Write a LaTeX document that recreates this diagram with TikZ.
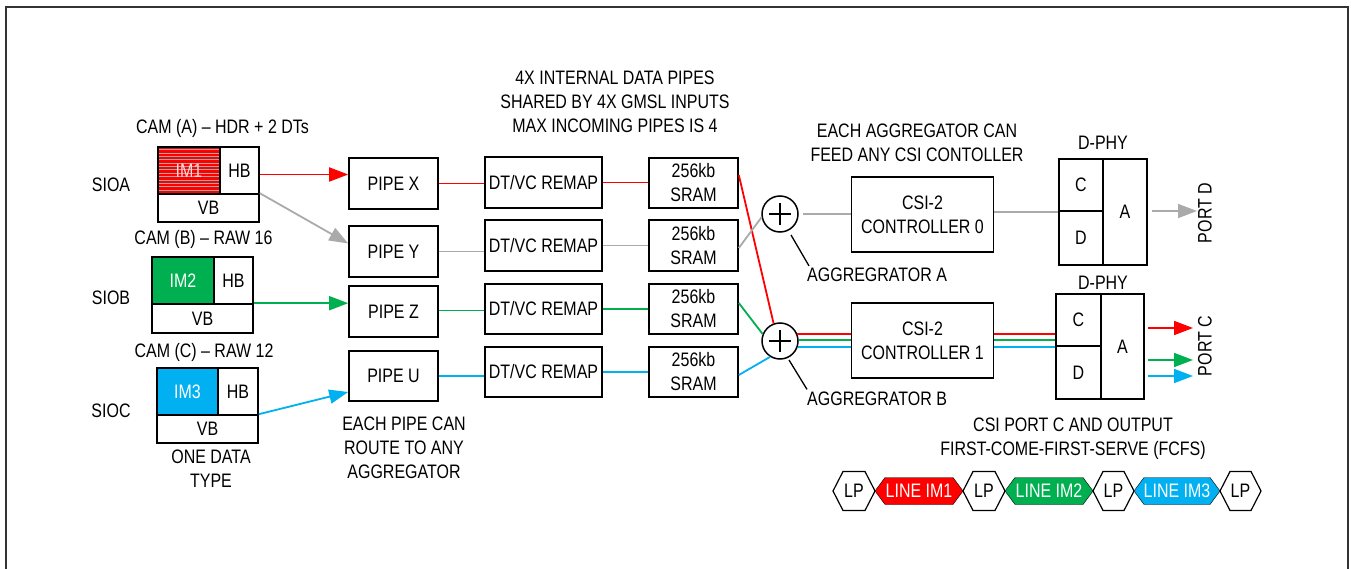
\documentclass[tikz,border=0pt]{standalone}
\usepackage{fontspec}
\setmainfont{Liberation Sans}[FakeStretch=0.82]
\usetikzlibrary{arrows.meta,calc}
\definecolor{cred}{RGB}{255,0,0}
\definecolor{cgreen}{RGB}{0,176,80}
\definecolor{cblue}{RGB}{0,176,240}
\definecolor{cgray}{RGB}{170,170,170}
\newcommand\hexshape[4]{\draw[#4] (#1,491) -- (#1+10,491-#3) -- (#2-10,491-#3) -- (#2,491) -- (#2-10,491+#3) -- (#1+10,491+#3) -- cycle;}
\begin{document}
\begin{tikzpicture}[x=1pt,y=-1pt,
  every node/.style={font=\fontsize{19.5}{24}\selectfont, inner sep=0pt, align=center},
  box/.style={draw, line width=1.6pt},
  conn/.style={line width=1.8pt},
  arr/.style={conn, -{Triangle[length=19pt,width=14pt]}},
  leader/.style={line width=1.3pt, black}
]
\useasboundingbox (0,0) rectangle (1351,569);
% frame
\draw[line width=1.8pt, black!80] (6,569) -- (6,7) -- (1348,7) -- (1348,569);

% titles
\node (tPipes) at (615,102) {4X INTERNAL DATA PIPES\\SHARED BY 4X GMSL INPUTS\\MAX INCOMING PIPES IS 4};
\node (tCamA) at (222.5,128) {CAM (A) -- HDR + 2 DTs};
\node (tCamB) at (203.5,239) {CAM (B) -- RAW 16};
\node (tCamC) at (204,352) {CAM (C) -- RAW 12};
\node (tAgg) at (917,142.5) {EACH AGGREGATOR CAN\\FEED ANY CSI CONTOLLER};
\node (tPhy1) at (1103,143) {D-PHY};
\node (tPhy2) at (1103,283) {D-PHY};
\node (tOne) at (211,469) {ONE DATA\\TYPE};
\node (tEach) at (404,448) {EACH PIPE CAN\\ROUTE TO ANY\\AGGREGATOR};
\node (tFcfs) at (1073,438.5) {CSI PORT C AND OUTPUT\\FIRST-COME-FIRST-SERVE (FCFS)};
\node (sioa) at (111,185) {SIOA};
\node (siob) at (111,298) {SIOB};
\node (sioc) at (111,411) {SIOC};

% camera A
\node[box, fill=cred, minimum width=62, minimum height=47,
  path picture={\foreach \k in {1,...,14}{\draw[cgray, line width=0.9pt] ($(path picture bounding box.north west)+(0,\k*3.35-0.5)$) -- ++(70,0);}}]
  (imA) at (189,170.5) {};
\node[text=white!85!red] (imAt) at (imA) {IM1};
\node[box, minimum width=39, minimum height=47] (hbA) at (239.5,170.5) {HB};
\node[box, minimum width=101, minimum height=28] (vbA) at (208.5,208) {VB};
% camera B
\node[box, fill=cgreen, text=white, minimum width=62, minimum height=47] (imB) at (183,280.5) {IM2};
\node[box, minimum width=39, minimum height=47] (hbB) at (233.5,280.5) {HB};
\node[box, minimum width=101, minimum height=29] (vbB) at (202.5,318.5) {VB};
% camera C
\node[box, fill=cblue, text=white, minimum width=61, minimum height=47] (imC) at (187.5,391.5) {IM3};
\node[box, minimum width=40, minimum height=47] (hbC) at (238,391.5) {HB};
\node[box, minimum width=101, minimum height=28] (vbC) at (207.5,429) {VB};

% pipes
\node[box, minimum width=89, minimum height=51] (pX) at (393.5,183.5) {PIPE X};
\node[box, minimum width=89, minimum height=51] (pY) at (393.5,251.5) {PIPE Y};
\node[box, minimum width=89, minimum height=51] (pZ) at (393.5,311.5) {PIPE Z};
\node[box, minimum width=89, minimum height=50] (pU) at (393.5,376) {PIPE U};
% remaps
\node[box, minimum width=117, minimum height=51] (rX) at (543.5,182.5) {DT/VC REMAP};
\node[box, minimum width=117, minimum height=51] (rY) at (543.5,245.5) {DT/VC REMAP};
\node[box, minimum width=117, minimum height=50] (rZ) at (543.5,309) {DT/VC REMAP};
\node[box, minimum width=117, minimum height=50] (rU) at (543.5,372) {DT/VC REMAP};
% srams
\node[box, minimum width=89, minimum height=50] (sX) at (693.5,183) {256kb\\SRAM};
\node[box, minimum width=89, minimum height=51] (sY) at (693.5,245.5) {256kb\\SRAM};
\node[box, minimum width=89, minimum height=50] (sZ) at (693.5,309) {256kb\\SRAM};
\node[box, minimum width=89, minimum height=50] (sU) at (693.5,372) {256kb\\SRAM};

% aggregators
\node[draw, circle, line width=1.5pt, minimum size=36] (aggA) at (780,214) {};
\node[draw, circle, line width=1.5pt, minimum size=36] (aggB) at (780,341) {};
\draw[line width=1.4pt] ($(aggA)+(-11,0)$) -- ($(aggA)+(11,0)$) ($(aggA)+(0,-11)$) -- ($(aggA)+(0,11)$);
\draw[line width=1.4pt] ($(aggB)+(-11,0)$) -- ($(aggB)+(11,0)$) ($(aggB)+(0,-11)$) -- ($(aggB)+(0,11)$);
\node[anchor=west] (lblA) at (807,275) {AGGREGRATOR A};
\node[anchor=west] (lblB) at (807,398.5) {AGGREGRATOR B};
\draw[leader] ($(aggA)+(11,21)$) -- ($(lblA.north west)+(2,-2)$);
\draw[leader] ($(aggB)+(9,19)$) -- ($(lblB.north west)+(0,-2)$);

% CSI controllers
\node[box, minimum width=142, minimum height=75] (csi0) at (922.5,214.5) {CSI-2\\CONTROLLER 0};
\node[box, minimum width=142, minimum height=75] (csi1) at (922.5,340.5) {CSI-2\\CONTROLLER 1};

% D-PHY top
\node[box, minimum width=44, minimum height=52] (dC1) at (1081,185) {C};
\node[box, minimum width=44, minimum height=54] (dD1) at (1081,238) {D};
\node[box, minimum width=44, minimum height=106] (dA1) at (1125,212) {A};
% D-PHY bottom
\node[box, minimum width=45, minimum height=52] (dC2) at (1078.5,320) {C};
\node[box, minimum width=45, minimum height=53] (dD2) at (1078.5,372.5) {D};
\node[box, minimum width=43, minimum height=105] (dA2) at (1122.5,346.5) {A};

\node[rotate=90] (portD) at (1205,213) {PORT D};
\node[rotate=90] (portC) at (1205,346) {PORT C};
\coordinate (outD) at (1197,211);
\coordinate (outCr) at (1193,328);
\coordinate (outCg) at (1193,360);
\coordinate (outCb) at (1193,376);

% camera -> pipe arrows
\draw[arr, cred] ($(hbA.east)+(0,4)$) -- ($(pX.west |- hbA.east)+(0,4)$);
\draw[arr, cgray] (vbA.north east) -- ($(pY.west)+(0,-8)$);
\draw[arr, cgreen] (vbB.north east) -- (pZ.west |- vbB.north east);
\draw[arr, cblue] (vbC.north east) -- ($(pU.west)+(0,16)$);

% pipe -> remap -> sram
\draw[conn, cred] (pX.east) -- (rX.west |- pX.east);
\draw[conn, cgray] (pY.east) -- (rY.west |- pY.east);
\draw[conn, cgreen] ($(pZ.east)+(0,-1)$) -- ($(rZ.west |- pZ.east)+(0,-1)$);
\draw[conn, cblue] (pU.east) -- (rU.west |- pU.east);
\draw[conn, cred] (rX.east) -- (sX.west |- rX.east);
\draw[conn, cgray] (rY.east) -- (sY.west |- rY.east);
\draw[conn, cgreen] (rZ.east) -- (sZ.west |- rZ.east);
\draw[conn, cblue] (rU.east) -- (sU.west |- rU.east);

% sram -> aggregators
\draw[conn, cred] ($(sX.east)+(0,-8)$) -- (aggB.110);
\draw[conn, cgray] ($(sY.east)+(0,2.5)$) -- (aggA.190);
\draw[conn, cgreen] ($(sZ.east)+(0,-6)$) -- (aggB.158);
\draw[conn, cblue] ($(sU.east)+(0,3)$) -- (aggB.238);

% aggregators -> csi
\draw[conn, cgray] ($(aggA.east)+(4,0)$) -- (csi0.west |- aggA.east);
\draw[conn, cred] (aggB.22) -- (csi1.west |- aggB.22);
\draw[conn, cgreen] (aggB.2) -- (csi1.west |- aggB.2);
\draw[conn, cblue] (aggB.-19) -- (csi1.west |- aggB.-19);

% csi -> dphy
\draw[conn, cgray] (csi0.east |- dC1.south) -- (dC1.south west);
\draw[conn, cred] (csi1.east |- aggB.22) -- (dC2.west |- aggB.22);
\draw[conn, cgreen] (csi1.east |- aggB.2) -- (dC2.west |- aggB.2);
\draw[conn, cblue] (csi1.east |- aggB.-19) -- (dC2.west |- aggB.-19);

% outputs
\draw[arr, cgray] ($(dA1.east |- outD)+(4,0)$) -- (outD);
\draw[arr, cred] ($(dA2.east |- outCr)+(3,0)$) -- (outCr);
\draw[arr, cgreen] ($(dA2.east |- outCg)+(3,0)$) -- (outCg);
\draw[arr, cblue] ($(dA2.east |- outCb)+(3,0)$) -- (outCb);

% FCFS line
\hexshape{833}{875}{19.5}{draw, line width=1.2pt, fill=white}
\hexshape{875}{963}{13.5}{fill=cred}
\hexshape{963}{1005}{19.5}{draw, line width=1.2pt, fill=white}
\hexshape{1005}{1093}{13.5}{fill=cgreen}
\hexshape{1093}{1134}{19.5}{draw, line width=1.2pt, fill=white}
\hexshape{1134}{1220}{13.5}{fill=cblue}
\hexshape{1220}{1261}{19.5}{draw, line width=1.2pt, fill=white}
\node (lp1) at (854,491) {LP};
\node[text=white] (li1) at (919,491) {LINE IM1};
\node (lp2) at (984,491) {LP};
\node[text=white] (li2) at (1049,491) {LINE IM2};
\node (lp3) at (1113.5,491) {LP};
\node[text=white] (li3) at (1177,491) {LINE IM3};
\node (lp4) at (1240.5,491) {LP};
\end{tikzpicture}
\end{document}
